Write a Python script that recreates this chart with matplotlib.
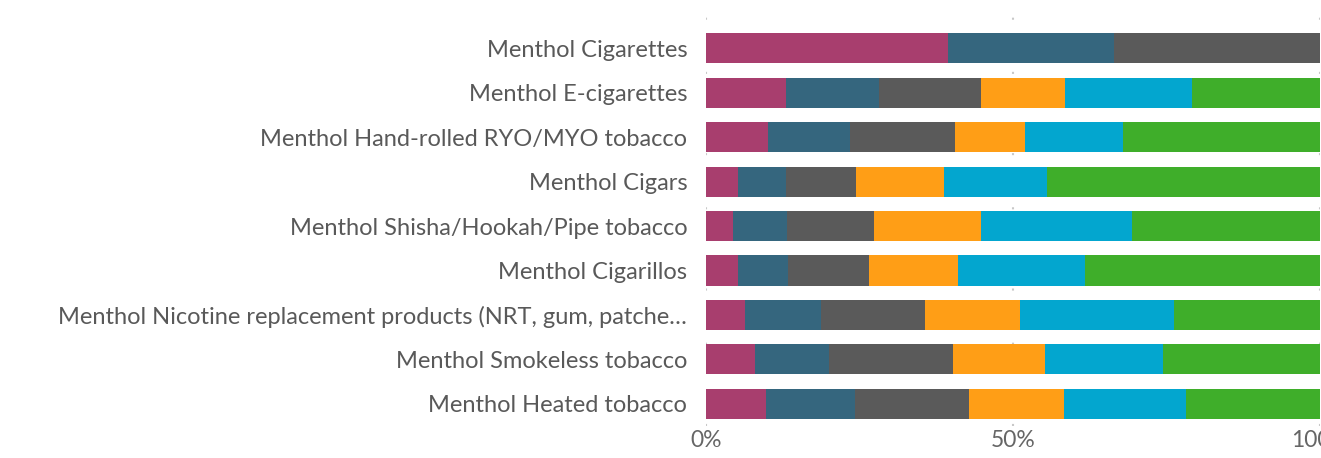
import matplotlib
matplotlib.use("Agg")
import matplotlib.pyplot as plt
import numpy as np

categories = [
    "Menthol Cigarettes",
    "Menthol E-cigarettes",
    "Menthol Hand-rolled RYO/MYO tobacco",
    "Menthol Cigars",
    "Menthol Shisha/Hookah/Pipe tobacco",
    "Menthol Cigarillos",
    "Menthol Nicotine replacement products (NRT, gum, patche\u2026",
    "Menthol Smokeless tobacco",
    "Menthol Heated tobacco",
]

s1 = [39.4, 13.0, 10.1, 5.2, 4.4, 5.2, 6.4, 8.0, 9.8]
s2 = [27.1, 15.1, 13.4, 7.8, 8.8, 8.2, 12.4, 12.1, 14.4]
s3 = [33.5, 16.7, 17.1, 11.5, 14.2, 13.2, 16.9, 20.2, 18.6]
s4 = [0.0, 13.7, 11.4, 14.3, 17.4, 14.4, 15.5, 14.9, 15.5]
s5 = [0.0, 20.6, 15.9, 16.7, 24.6, 20.7, 25.1, 19.2, 19.9]
s6 = [0.0, 20.9, 32.1, 44.5, 30.6, 38.3, 23.7, 25.6, 21.8]

series = [s1, s2, s3, s4, s5, s6]
colors = ["#A83E6E", "#35667E", "#5A5A5A", "#FF9E16", "#03A6CF", "#3FAE2A"]

xticks = [0, 50, 100]
xtick_labels = ["0%", "50%", "100%"]

plt.rcParams['font.family'] = ['Lato', 'DejaVu Sans']

fig = plt.figure(figsize=(13.21, 4.58), dpi=100)
ax = fig.add_axes([706/1321, 1 - 426/458, (1320 - 706)/1321, (426 - 7)/458])

y = np.arange(len(categories))
left = np.zeros(len(categories))
for vals, c in zip(series, colors):
    v = np.array(vals)
    ax.barh(y, v, left=left, height=0.68, color=c, edgecolor='none', zorder=2)
    left += v

ax.set_xlim(0, 100)
ax.set_ylim(8.5, -0.93)
ax.set_yticks(y)
ax.set_yticklabels(categories, fontsize=17, color="#595959")
ax.set_xticks(xticks)
ax.set_xticklabels(xtick_labels, fontsize=16.5, color="#666666")
ax.tick_params(axis='y', length=0, pad=13.5)
ax.tick_params(axis='x', length=0, pad=3)
for s in ax.spines.values():
    s.set_visible(False)
ax.grid(axis='x', color="#C8C8C8", linestyle=(0, (1, 12)), linewidth=1.5, zorder=0)
ax.set_axisbelow(True)

fig.savefig("out.png", dpi=100)
